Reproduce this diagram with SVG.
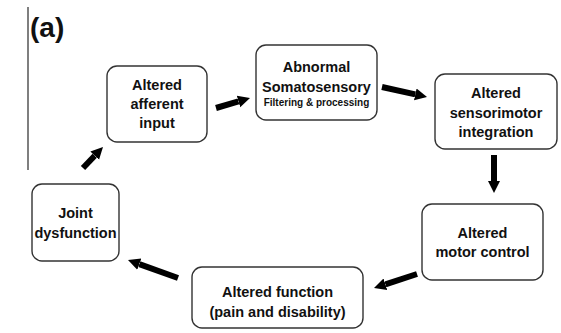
<svg xmlns="http://www.w3.org/2000/svg" width="561" height="333" viewBox="0 0 561 333">
  <style>
    .box { fill: #ffffff; stroke: #333333; stroke-width: 1.4; }
    .t { font-family: "Liberation Sans", Arial, sans-serif; font-weight: bold; font-size: 14.5px; fill: #111111; text-anchor: middle; }
    .s { font-size: 10px; }
    .arrow { stroke: #000000; stroke-width: 6; fill: none; marker-end: url(#head); }
  </style>
  <defs>
    <marker id="head" viewBox="0 0 10 10" refX="0" refY="5" markerWidth="2" markerHeight="2.6" orient="auto" markerUnits="strokeWidth">
      <path d="M0,0 L10,5 L0,10 z" fill="#000000"/>
    </marker>
  </defs>
  <rect width="561" height="333" fill="#ffffff"/>

  <!-- panel label -->
  <line x1="28" y1="7" x2="28" y2="170" stroke="#555555" stroke-width="1.5"/>
  <text x="30" y="37" font-family="Liberation Sans, Arial, sans-serif" font-weight="bold" font-size="28px" fill="#111111">(a)</text>

  <g id="connectors">
    <line class="arrow" x1="216" y1="108" x2="238.5" y2="101.4"/>
    <line class="arrow" x1="382" y1="87" x2="415.3" y2="94.4"/>
    <line class="arrow" x1="494" y1="155" x2="494" y2="181"/>
    <line class="arrow" x1="417" y1="274" x2="385.4" y2="284.3"/>
    <line class="arrow" x1="178" y1="278" x2="139.3" y2="264.1"/>
    <line class="arrow" x1="83" y1="168" x2="94.7" y2="155.7"/>
  </g>

  <g id="afferent">
    <rect class="box" x="107" y="66" width="100" height="76" rx="10"/>
    <text class="t" x="157" y="90">Altered</text>
    <text class="t" x="157" y="109">afferent</text>
    <text class="t" x="157" y="128">input</text>
  </g>

  <g id="somatosensory">
    <rect class="box" x="256" y="45" width="121" height="75" rx="10"/>
    <text class="t" x="316.5" y="72">Abnormal</text>
    <text class="t" x="316.5" y="92">Somatosensory</text>
    <text class="t s" x="316.5" y="106">Filtering &amp; processing</text>
  </g>

  <g id="sensorimotor">
    <rect class="box" x="435" y="74" width="122" height="75" rx="10"/>
    <text class="t" x="496" y="98">Altered</text>
    <text class="t" x="496" y="118">sensorimotor</text>
    <text class="t" x="496" y="137">integration</text>
  </g>

  <g id="motor-control">
    <rect class="box" x="422" y="204" width="121" height="76" rx="10"/>
    <text class="t" x="482.5" y="238">Altered</text>
    <text class="t" x="482.5" y="257">motor control</text>
  </g>

  <g id="function">
    <rect class="box" x="192" y="267" width="171" height="61" rx="10"/>
    <text class="t" x="277.5" y="297">Altered function</text>
    <text class="t" x="277.5" y="317">(pain and disability)</text>
  </g>

  <g id="joint">
    <rect class="box" x="32" y="184" width="87" height="77" rx="10"/>
    <text class="t" x="75.5" y="218">Joint</text>
    <text class="t" x="75.5" y="238">dysfunction</text>
  </g>
</svg>
